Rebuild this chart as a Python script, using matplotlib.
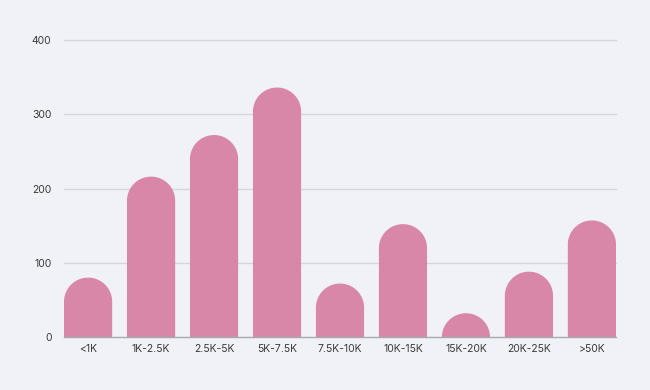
import matplotlib
matplotlib.use("Agg")
import matplotlib.pyplot as plt
import numpy as np
from matplotlib.path import Path
from matplotlib.patches import PathPatch

categories = ["<1K", "1K-2.5K", "2.5K-5K", "5K-7.5K", "7.5K-10K", "10K-15K", "15K-20K", "20K-25K", ">50K"]
values = [80, 216, 272, 336, 72, 152, 32, 88, 157]
yticks = [0, 100, 200, 300, 400]

BG = "#f0f2f7"
BAR = "#d887a9"
GRID = "#d3d6dd"
BASE = "#a7aab2"
TXT = "#3a3a3a"

plt.rcParams["font.family"] = ["Inter", "DejaVu Sans"]

fig = plt.figure(figsize=(6.5, 3.9), dpi=100, facecolor=BG)
ax = fig.add_axes([64 / 650, 53 / 390, 552 / 650, 297 / 390])
ax.set_facecolor(BG)

width = 0.765
n = len(categories)
x = np.arange(n)
ax.set_xlim(-width / 2, n - 1 + width / 2)
ax.set_ylim(0, 400)

# pixel scales for circular caps
ax_w_px = 552
ax_h_px = 297
sx = ax_w_px / (n - 1 + width)   # px per x unit
sy = ax_h_px / 400.0             # px per y unit
rx = width / 2
ry = rx * sx / sy

for xi, v in zip(x, values):
    base = v - ry
    t = np.linspace(np.pi, 0, 60)
    pts = [(xi - rx, 0), (xi - rx, base)]
    pts += list(zip(xi + rx * np.cos(t), base + ry * np.sin(t)))
    pts += [(xi + rx, base), (xi + rx, 0), (xi - rx, 0)]
    pts = [(px, max(py, 0)) for px, py in pts]
    codes = [Path.MOVETO] + [Path.LINETO] * (len(pts) - 2) + [Path.CLOSEPOLY]
    ax.add_patch(PathPatch(Path(pts, codes), facecolor=BAR, edgecolor="none", zorder=3))

for yv in yticks[1:]:
    ax.axhline(yv, color=GRID, lw=1.0, zorder=1, clip_on=False)
ax.axhline(0, color=BASE, lw=1.0, zorder=4, clip_on=False)

for s in ax.spines.values():
    s.set_visible(False)

ax.set_yticks(yticks)
ax.set_yticklabels([str(v) for v in yticks])
ax.set_xticks(x)
ax.set_xticklabels(categories)
ax.tick_params(axis="both", length=0, labelsize=7.5, colors=TXT)
ax.tick_params(axis="y", pad=9)
ax.tick_params(axis="x", pad=5)

fig.savefig("out.png", dpi=100, facecolor=BG)
